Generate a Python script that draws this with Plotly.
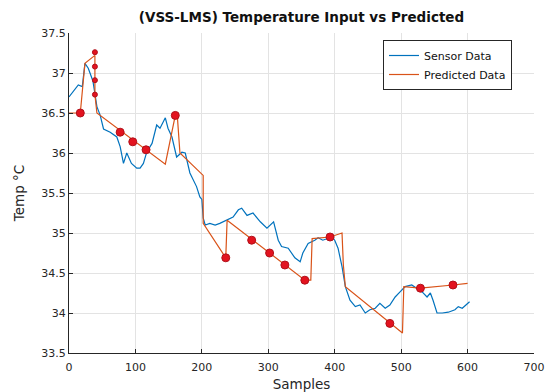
import plotly.graph_objects as go

# Sensor data (blue)
sensor_x = [0, 14, 20, 24, 29, 36, 42, 47, 52, 62, 72, 77, 82, 87, 94, 102, 107, 112, 117, 125,
            132, 137, 145, 149, 155, 162, 170, 175, 182, 192, 197, 200, 202, 205, 212, 220, 227,
            238, 247, 255, 260, 268, 277, 288, 298, 308, 315, 320, 330, 340, 348, 352, 360, 370,
            375, 382, 396, 400, 405, 411, 416, 423, 431, 438, 446, 453, 461, 468, 476, 483, 491,
            498, 506, 516, 524, 532, 539, 544, 548, 554, 562, 571, 581, 586, 592, 600, 603]
sensor_y = [36.7, 36.85, 36.83, 37.12, 37.06, 36.9, 36.58, 36.47, 36.3, 36.26, 36.2, 36.08, 35.87,
            36.0, 35.87, 35.81, 35.81, 35.87, 36.01, 36.12, 36.35, 36.31, 36.44, 36.31, 36.2, 35.95,
            36.01, 36.0, 35.75, 35.58, 35.45, 35.42, 35.19, 35.1, 35.12, 35.1, 35.12, 35.16, 35.2,
            35.29, 35.31, 35.22, 35.25, 35.14, 35.06, 35.14, 34.91, 34.83, 34.81, 34.69, 34.64,
            34.75, 34.87, 34.91, 34.94, 34.91, 34.95, 34.91, 34.81, 34.58, 34.33, 34.16, 34.08,
            34.1, 34.0, 34.04, 34.06, 34.12, 34.06, 34.1, 34.2, 34.26, 34.33, 34.35, 34.31, 34.26,
            34.2, 34.25, 34.16, 34.0, 34.0, 34.01, 34.04, 34.08, 34.06, 34.12, 34.14]

# Predicted data (orange)
pred_x = [0, 17, 24, 39, 39, 42, 145, 160, 163, 167, 202, 202, 236, 238, 355, 364, 366, 393,
          411, 413, 416, 502, 504, 529, 578, 600]
pred_y = [36.5, 36.5, 37.12, 37.22, 36.73, 36.5, 35.86, 36.47, 36.47, 36.0, 35.72, 35.12, 34.69,
          35.16, 34.41, 34.41, 34.93, 34.95, 35.0, 34.6, 34.33, 33.75, 34.33, 34.31, 34.35, 34.37]

# Highlighted points (red)
mark_x = [17, 77, 96, 116, 160, 236, 275, 302, 325, 355, 393, 483, 529, 578]
mark_y = [36.5, 36.26, 36.14, 36.04, 36.47, 34.69, 34.91, 34.75, 34.6, 34.41, 34.95, 33.87, 34.31, 34.35]
small_x = [39, 39, 39, 39]
small_y = [37.26, 37.08, 36.91, 36.73]

x_ticks = [0, 100, 200, 300, 400, 500, 600, 700]
y_ticks = [33.5, 34, 34.5, 35, 35.5, 36, 36.5, 37, 37.5]

FONT = "DejaVu Sans"

fig = go.Figure()
fig.add_trace(go.Scatter(x=sensor_x, y=sensor_y, mode="lines", name="Sensor Data",
                         line=dict(color="#0072BD", width=1.2)))
fig.add_trace(go.Scatter(x=pred_x, y=pred_y, mode="lines", name="Predicted Data",
                         line=dict(color="#D95319", width=1.2)))
fig.add_trace(go.Scatter(x=mark_x, y=mark_y, mode="markers", showlegend=False,
                         marker=dict(color="#e3131f", size=8, line=dict(color="#b0101a", width=1))))
fig.add_trace(go.Scatter(x=small_x, y=small_y, mode="markers", showlegend=False,
                         marker=dict(color="#e3131f", size=5, line=dict(color="#b0101a", width=1))))

axis_common = dict(showgrid=True, gridcolor="#e3e3e3", gridwidth=1, zeroline=False,
                   showline=True, linecolor="#262626", linewidth=1, mirror=False,
                   ticks="inside", ticklen=4, tickcolor="#262626", automargin=False,
                   tickfont=dict(family=FONT, size=11, color="#262626"))

fig.update_layout(
    width=551, height=392,
    margin=dict(l=69, r=17, t=33, b=39),
    paper_bgcolor="white", plot_bgcolor="white",
    title=dict(text="<b>(VSS-LMS) Temperature Input vs Predicted</b>",
               x=(69 + 534) / 2 / 551, xanchor="center", y=1 - 17 / 392, yanchor="middle",
               font=dict(family=FONT, size=13.5, color="#111111")),
    xaxis=dict(range=[0, 700], tickvals=x_ticks, ticktext=[str(v) for v in x_ticks],
               ticklabelstandoff=4,
               title=dict(text="Samples", standoff=7, font=dict(family=FONT, size=13.5, color="#262626")),
               **axis_common),
    yaxis=dict(range=[33.5, 37.5], tickvals=y_ticks, ticktext=[f"{v:g}" for v in y_ticks],
               title=dict(text="Temp °C", standoff=13, font=dict(family=FONT, size=13.5, color="#262626")),
               **axis_common),
    legend=dict(x=(512 - 69) / 465, xanchor="right", y=(353 - 40) / 320, yanchor="top",
                bgcolor="white", bordercolor="#262626", borderwidth=1,
                font=dict(family=FONT, size=11, color="#111111"),
                tracegroupgap=0, itemwidth=30),
    showlegend=True,
)

fig.write_html("out.html")
